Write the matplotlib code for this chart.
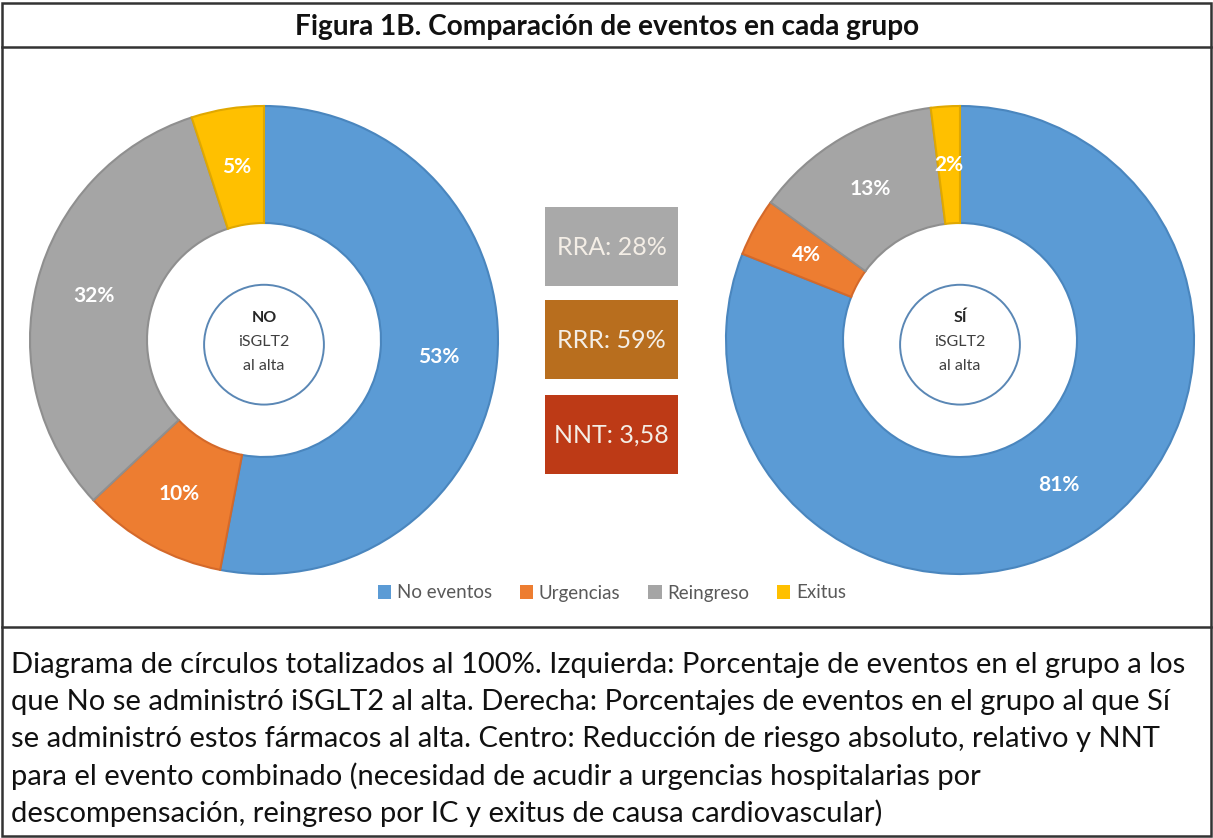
import matplotlib
matplotlib.use("Agg")
import matplotlib.pyplot as plt
from matplotlib.patches import Rectangle, Circle, Patch

plt.rcParams['font.family'] = ['Lato', 'DejaVu Sans']

# Datos
categorias = ['No eventos', 'Urgencias', 'Reingreso', 'Exitus']
no_isglt2 = [53, 10, 32, 5]
si_isglt2 = [81, 4, 13, 2]
colores = ['#5B9BD5', '#ED7D31', '#A5A5A5', '#FFC000']
bordes = ['#4A86BE', '#D4692A', '#8F8F8F', '#E0A800']

indicadores = ['RRA: 28%', 'RRR: 59%', 'NNT: 3,58']
colores_ind = ['#A9A9A9', '#B86E1E', '#BD3A16']

titulo = 'Figura 1B. Comparación de eventos en cada grupo'
pie_texto = [
    'Diagrama de círculos totalizados al 100%. Izquierda: Porcentaje de eventos en el grupo a los',
    'que No se administró iSGLT2 al alta. Derecha: Porcentajes de eventos en el grupo al que Sí',
    'se administró estos fármacos al alta. Centro: Reducción de riesgo absoluto, relativo y NNT',
    'para el evento combinado (necesidad de acudir a urgencias hospitalarias por',
    'descompensación, reingreso por IC y exitus de causa cardiovascular)',
]

W, H = 1213, 838
fig = plt.figure(figsize=(W / 100, H / 100), dpi=100)

# capa de fondo en píxeles para marcos, textos y cajas
bg = fig.add_axes([0, 0, 1, 1])
bg.set_xlim(0, W)
bg.set_ylim(H, 0)
bg.axis('off')

bg.add_patch(Rectangle((2, 3), W - 4, H - 5, fill=False, edgecolor='#333333', lw=1.8))
bg.plot([2, W - 2], [47, 47], color='#333333', lw=1.8)
bg.plot([2, W - 2], [627, 627], color='#333333', lw=1.8)

bg.text(W / 2 + 1, 27, titulo, ha='center', va='center', fontsize=20.2, fontweight='bold', color='#111111')

for i, linea in enumerate(pie_texto):
    bg.text(11, 665 + i * 37, linea, ha='left', va='center', fontsize=21, color='#111111')

# cajas centrales
cajas_y = [207, 300, 395]
for texto, col, y in zip(indicadores, colores_ind, cajas_y):
    bg.add_patch(Rectangle((545, y), 133, 79, facecolor=col, edgecolor='none'))
    bg.text(545 + 66.5, y + 40, texto, ha='center', va='center', fontsize=18, color='#F4EEE6')


def donut(cx, valores, etiqueta):
    R = 234
    ax = fig.add_axes([(cx - R) / W, (H - 340 - R) / H, 2 * R / W, 2 * R / H])
    wedges, _, autotexts = ax.pie(valores, colors=colores, startangle=90, counterclock=False,
                                  autopct='%.0f%%', pctdistance=0.75,
                                  wedgeprops=dict(width=0.5, linewidth=1.5),
                                  textprops=dict(color='white', fontsize=15, fontweight='bold'))
    for w, ec in zip(wedges, bordes):
        w.set_edgecolor(ec)
    ax.set_xlim(-1, 1)
    ax.set_ylim(-1, 1)
    ax.axis('off')
    ax.add_patch(Circle((0, -0.02), 0.256, fill=False, edgecolor='#5A87B5', lw=1.4))
    ax.text(0, 0.094, etiqueta, ha='center', va='center', fontsize=11.5, fontweight='bold', color='#262626')
    ax.text(0, -0.01, 'iSGLT2', ha='center', va='center', fontsize=11.5, color='#404040')
    ax.text(0, -0.112, 'al alta', ha='center', va='center', fontsize=11.5, color='#404040')


donut(264, no_isglt2, 'NO')
donut(960, si_isglt2, 'SÍ')

handles = [Patch(facecolor=c, edgecolor='none') for c in colores]
fig.legend(handles, categorias, loc='center', bbox_to_anchor=(612 / W, 1 - 593 / H), ncol=4,
           frameon=False, fontsize=13.5, labelcolor='#595959', handlelength=0.7, handleheight=0.7,
           handletextpad=0.3, columnspacing=1.5)

fig.savefig('out.png', dpi=100, facecolor='white')
